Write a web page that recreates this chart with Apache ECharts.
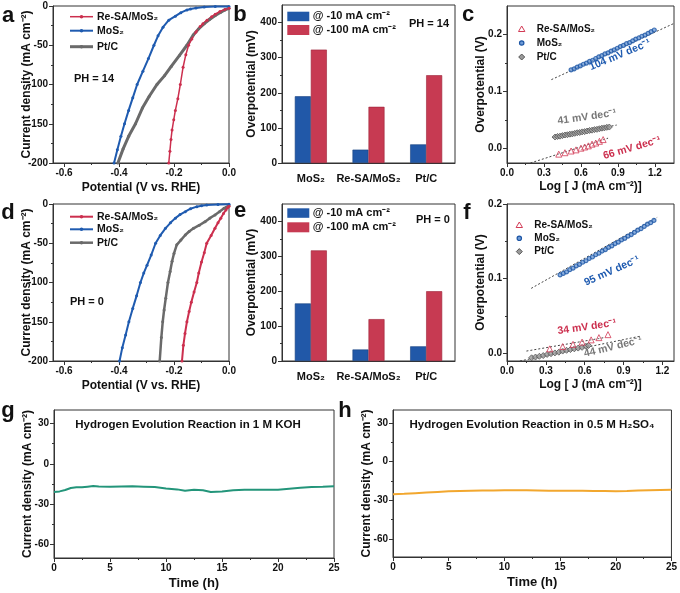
<!DOCTYPE html>
<html><head><meta charset="utf-8">
<script src="https://cdn.jsdelivr.net/npm/echarts@6/dist/echarts.min.js"></script>
<style>html,body{margin:0;padding:0;background:#fff}#c{width:680px;height:593px}</style>
</head><body><div id="c"></div>
<script>
const FONT = '"Liberation Sans", Arial, Helvetica, sans-serif';
// ---------- DATA ----------
// Panel a (pH 14) LSV: [potential V, current density mA cm-2]
const aRe  = [[0,-3],[-0.015,-4.5],[-0.033,-7],[-0.05,-10.5],[-0.063,-13.6],[-0.08,-18],[-0.095,-22.5],[-0.105,-26],[-0.12,-33],[-0.135,-42],[-0.147,-50],[-0.157,-62],[-0.167,-78],[-0.177,-100],[-0.186,-118],[-0.195,-133],[-0.201,-145],[-0.207,-158],[-0.211,-170],[-0.215,-185],[-0.219,-200]];
const aMoS = [[0,-0.5],[-0.05,-0.7],[-0.09,-1.2],[-0.12,-2.5],[-0.14,-3.8],[-0.153,-5],[-0.175,-8.5],[-0.195,-13],[-0.219,-18],[-0.24,-27],[-0.258,-38],[-0.273,-50],[-0.293,-67],[-0.313,-83],[-0.334,-100],[-0.35,-117],[-0.365,-133],[-0.38,-150],[-0.393,-166],[-0.406,-183],[-0.418,-200]];
const aPt  = [[0,-3],[-0.015,-5],[-0.03,-8],[-0.05,-12],[-0.07,-17],[-0.09,-22.5],[-0.11,-29],[-0.13,-37],[-0.153,-50],[-0.18,-63],[-0.21,-77],[-0.235,-89],[-0.262,-100],[-0.29,-115],[-0.315,-130],[-0.34,-150],[-0.365,-166],[-0.385,-182],[-0.404,-200]];
// Panel d (pH 0) LSV
const dRe  = [[0,-3],[-0.005,-4.5],[-0.011,-7.6],[-0.02,-12],[-0.03,-18],[-0.04,-24],[-0.051,-31],[-0.065,-40],[-0.081,-50],[-0.09,-62],[-0.1,-74],[-0.11,-88],[-0.117,-100],[-0.127,-112],[-0.137,-125],[-0.145,-137],[-0.153,-150],[-0.16,-165],[-0.166,-180],[-0.171,-200]];
const dMoS = [[0,-0.3],[-0.04,-0.5],[-0.081,-1.3],[-0.1,-2.2],[-0.117,-3.4],[-0.14,-6],[-0.159,-9.8],[-0.178,-13.5],[-0.195,-18],[-0.213,-24],[-0.231,-31],[-0.25,-40],[-0.267,-50],[-0.283,-65],[-0.298,-78],[-0.31,-88],[-0.322,-100],[-0.336,-117],[-0.35,-133],[-0.364,-150],[-0.376,-167],[-0.388,-183],[-0.398,-200]];
const dPt  = [[0,-2],[-0.01,-4],[-0.018,-5.5],[-0.035,-10],[-0.051,-14],[-0.07,-18],[-0.087,-22.5],[-0.108,-27],[-0.129,-31],[-0.145,-35],[-0.159,-39.5],[-0.175,-46],[-0.19,-52],[-0.2,-63],[-0.207,-73],[-0.214,-86],[-0.222,-100],[-0.23,-120],[-0.236,-135],[-0.241,-150],[-0.246,-170],[-0.252,-200]];
// Panels b, e: overpotentials (mV)
const barCats = ['MoS\u2082','Re-SA/MoS\u2082','Pt/C'];
const b10  = [190, 38, 53];
const b100 = [323, 160, 250];
const e10  = [165, 33, 42];
const e100 = [317, 120, 200];
// Panel c Tafel (pH 14)
const cMoSx = [0.52,0.545,0.57,0.595,0.62,0.645,0.67,0.695,0.72,0.745,0.77,0.795,0.82,0.845,0.87,0.895,0.92,0.945,0.97,0.995,1.02,1.045,1.07,1.095,1.12,1.145,1.17,1.195];
const cMoSy = [0.138,0.140,0.143,0.145,0.148,0.150,0.153,0.155,0.158,0.161,0.163,0.166,0.168,0.171,0.173,0.176,0.179,0.181,0.184,0.186,0.189,0.192,0.194,0.197,0.199,0.202,0.205,0.208];
const cPtx  = [0.39,0.41,0.43,0.45,0.47,0.49,0.51,0.53,0.55,0.57,0.59,0.61,0.63,0.65,0.67,0.69,0.71,0.73,0.75,0.77,0.79,0.81,0.83];
const cPty  = [0.0205,0.0215,0.022,0.023,0.024,0.0245,0.0255,0.026,0.027,0.028,0.0285,0.0295,0.030,0.031,0.032,0.0325,0.0335,0.034,0.035,0.036,0.0365,0.0375,0.038];
const cRex  = [0.42,0.47,0.52,0.56,0.60,0.63,0.66,0.69,0.72,0.75,0.78];
const cRey  = [-0.0095,-0.007,-0.004,-0.002,0.001,0.003,0.005,0.008,0.010,0.013,0.016];
const cFitMoS = [[0.36,0.121],[1.35,0.219]];
const cFitPt  = [[0.37,0.0195],[0.89,0.0415]];
const cFitRe  = [[0.19,-0.025],[0.82,0.0185]];
// Panel f Tafel (pH 0)
const fMoSx = [0.41,0.435,0.46,0.485,0.51,0.535,0.56,0.585,0.61,0.635,0.66,0.685,0.71,0.735,0.76,0.785,0.81,0.835,0.86,0.885,0.91,0.935,0.96,0.985,1.01,1.035,1.06,1.085,1.11,1.135];
const fMoSy = [0.105,0.107,0.109,0.112,0.114,0.117,0.119,0.122,0.124,0.127,0.129,0.132,0.134,0.137,0.139,0.142,0.144,0.147,0.149,0.152,0.154,0.157,0.159,0.162,0.165,0.167,0.170,0.173,0.175,0.178];
const fPtx  = [0.19,0.22,0.25,0.28,0.31,0.34,0.37,0.40,0.43,0.46,0.49,0.52,0.55,0.58,0.61,0.63];
const fPty  = [-0.006,-0.005,-0.004,-0.003,-0.0015,-0.0005,0.0005,0.0015,0.003,0.004,0.005,0.006,0.007,0.008,0.0095,0.0105];
const fRex  = [0.33,0.43,0.51,0.58,0.65,0.71,0.78];
const fRey  = [0.006,0.009,0.012,0.015,0.018,0.021,0.025];
const fFitMoS = [[0.187,0.087],[1.16,0.182]];
const fFitPt  = [[0.10,-0.0103],[1.03,0.023]];
const fFitRe  = [[0.15,0.003],[0.75,0.021]];
// Panels g, h stability
const gT = [0,0.5,1,1.5,2,2.5,3,3.5,4,5,6,7,8,9,10,11,11.7,12.5,13.3,14,15,16,17,18,19,20,21,22,23,24,25];
const gJ = [-21,-20.5,-19.5,-18,-17.5,-17.5,-17,-16.5,-16.8,-17,-16.8,-16.7,-17,-17.3,-18.3,-19,-20,-19.3,-19.7,-21,-20.5,-19.7,-19.3,-19.2,-19.2,-19.2,-18.5,-17.8,-17.2,-17,-16.7];
const hT = [0,1,2,3,4,5,6,7,8,9,10,11,12,13,14,15,16,17,18,19,20,21,22,23,24,25];
const hJ = [-25.4,-25,-24.5,-24,-23.5,-23,-22.8,-22.6,-22.5,-22.4,-22.2,-22.3,-22.2,-22.4,-22.7,-22.6,-22.6,-22.7,-22.8,-22.9,-23,-22.8,-22.5,-22.2,-22,-21.8];
// Tick labels
const lsvXTicks = [-0.6,-0.4,-0.2,0];
const lsvYTicks = [-200,-150,-100,-50,0];
const barYTicks = [0,100,200,300,400];
const tafXTicks = [0,0.3,0.6,0.9,1.2];
const tafYTicks = [0,0.1,0.2];
const stXTicks = [0,5,10,15,20,25];
const stYTicks = [-60,-30,0,30];

// ---------- STYLE ----------
const AX = '#333';
const RED = '#cc2f4e', BLUE = '#1f5bb0', GRAY = '#6a6a6a';
const BARB = '#2158a8', BARR = '#c73a52';
const zip = (xs, ys) => xs.map((x, i) => [x, ys[i]]);

const grids = [
  {left:53, top:6, width:176, height:157},   // a
  {left:282, top:5, width:173, height:158},  // b
  {left:507, top:6, width:167, height:157},  // c
  {left:53, top:204, width:176, height:157}, // d
  {left:282, top:204, width:173, height:157},// e
  {left:507, top:204, width:167, height:157},// f
  {left:54, top:410, width:280, height:148}, // g
  {left:393, top:410, width:281, height:147} // h
].map(g => Object.assign(g, {show:true, borderColor:AX, borderWidth:1, backgroundColor:'transparent'}));

const xAxes = [], yAxes = [];
const labelStyle = {fontFamily:FONT, fontWeight:'bold', fontSize:10, color:'#111'};
function valAxis(arr, dir, gi, min, max, ticks, minor, name, gap, fmt, nameSize) {
  arr.push({
    type:'value', gridIndex:gi, min, max, position: dir==='x'?'bottom':'left',
    name, nameLocation:'middle', nameGap:gap, nameMoveOverlap:false,
    nameTextStyle:{fontFamily:FONT, fontWeight:'bold', fontSize:nameSize||12, color:'#111'},
    axisLine:{show:true, onZero:false, lineStyle:{color:AX, width:1}},
    axisTick:{show:true, length:4, customValues:ticks, lineStyle:{color:AX}},
    axisLabel:Object.assign({show:true, customValues:ticks, margin:5, formatter:fmt}, labelStyle),
    splitLine:{show:false}
  });
  const main = arr.length - 1;
  arr.push({
    type:'value', gridIndex:gi, min, max, position: dir==='x'?'bottom':'left',
    axisLine:{show:false, onZero:false},
    axisTick:{show:true, length:2, customValues:minor, lineStyle:{color:AX}},
    axisLabel:{show:false}, splitLine:{show:false}
  });
  return main;
}
const f1 = v => v.toFixed(1);
const f0 = v => String(Math.round(v));

const ax = {};
// a
ax.ax = valAxis(xAxes,'x',0,-0.64,0,lsvXTicks,[-0.5,-0.3,-0.1],'Potential (V vs. RHE)',19,f1);
ax.ay = valAxis(yAxes,'y',0,-200,0,lsvYTicks,[-175,-125,-75,-25],'Current density (mA cm\u207B\u00B2)',20,f0);
// d
ax.dx = valAxis(xAxes,'x',3,-0.64,0,lsvXTicks,[-0.5,-0.3,-0.1],'Potential (V vs. RHE)',19,f1);
ax.dy = valAxis(yAxes,'y',3,-200,0,lsvYTicks,[-175,-125,-75,-25],'Current density (mA cm\u207B\u00B2)',20,f0);
// c
ax.cx = valAxis(xAxes,'x',2,0,1.355,tafXTicks,[0.15,0.45,0.75,1.05],'Log [ J (mA cm\u207B\u00B2)]',18,f1);
ax.cy = valAxis(yAxes,'y',2,-0.025,0.25,tafYTicks,[0.05,0.15],'Overpotential (V)',20,f1);
// f
ax.fx = valAxis(xAxes,'x',5,0,1.29,tafXTicks,[0.15,0.45,0.75,1.05],'Log [ J (mA cm\u207B\u00B2)]',18,f1);
ax.fy = valAxis(yAxes,'y',5,-0.0103,0.2,tafYTicks,[0.05,0.15],'Overpotential (V)',20,f1);
// g
ax.gx = valAxis(xAxes,'x',6,0,25,stXTicks,[2.5,7.5,12.5,17.5,22.5],'Time (h)',19,f0,13);
ax.gy = valAxis(yAxes,'y',6,-70,40,stYTicks,[-45,-15,15],'Current density (mA cm\u207B\u00B2)',20,f0);
// h
ax.hx = valAxis(xAxes,'x',7,0,25,stXTicks,[2.5,7.5,12.5,17.5,22.5],'Time (h)',19,f0,13);
ax.hy = valAxis(yAxes,'y',7,-74,40,stYTicks,[-45,-15,15],'Current density (mA cm\u207B\u00B2)',20,f0);
// b, e bar axes
function catAxis(gi){
  xAxes.push({type:'category', gridIndex:gi, data:barCats, position:'bottom',
    axisLine:{show:true, lineStyle:{color:AX}}, axisTick:{show:false},
    axisLabel:Object.assign({margin:10, interval:0, hideOverlap:false}, labelStyle, {fontSize:11})});
  return xAxes.length-1;
}
ax.bx = catAxis(1);
ax.by = valAxis(yAxes,'y',1,0,450,barYTicks,[50,150,250,350],'Overpotential (mV)',24,f0);
ax.ex = catAxis(4);
ax.ey = valAxis(yAxes,'y',4,0,450,barYTicks,[50,150,250,350],'Overpotential (mV)',24,f0);

const series = [];
function lsv(xi, yi, data, color, w, sym){
  series.push({type:'line', xAxisIndex:xi, yAxisIndex:yi, data, color,
    symbol:'circle', symbolSize:sym, showSymbol:true,
    lineStyle:{width:w, color}, itemStyle:{color}, z:3});
}
lsv(ax.ax, ax.ay, aPt, GRAY, 3, 3);
lsv(ax.ax, ax.ay, aMoS, BLUE, 2, 3);
lsv(ax.ax, ax.ay, aRe, RED, 1.5, 3);
lsv(ax.dx, ax.dy, dPt, GRAY, 2.5, 3);
lsv(ax.dx, ax.dy, dMoS, BLUE, 2, 3);
lsv(ax.dx, ax.dy, dRe, RED, 2, 3);

function bars(xi, yi, v10, v100){
  series.push({type:'bar', xAxisIndex:xi, yAxisIndex:yi, data:v10, barWidth:16, barGap:'0%',
    itemStyle:{color:BARB, borderColor:'#17427f', borderWidth:0.6}});
  series.push({type:'bar', xAxisIndex:xi, yAxisIndex:yi, data:v100, barWidth:16, barGap:'0%',
    itemStyle:{color:BARR, borderColor:'#9c2237', borderWidth:0.6}});
}
bars(ax.bx, ax.by, b10, b100);
bars(ax.ex, ax.ey, e10, e100);

function fit(xi, yi, data){
  series.push({type:'line', xAxisIndex:xi, yAxisIndex:yi, data, symbol:'none',
    lineStyle:{type:[2,2], color:'#444', width:1}, z:2});
}
const symRe = {symbol:'triangle', symbolSize:6, itemStyle:{color:'rgba(255,255,255,0.3)', borderColor:'#d23a55', borderWidth:1}};
const symMoS = {symbol:'circle', symbolSize:4, itemStyle:{color:'#6f9bd6', borderColor:'#1d56a5', borderWidth:1.2}};
const symPt = {symbol:'diamond', symbolSize:6, itemStyle:{color:'#9a9a9a', borderColor:'#555', borderWidth:1}};
function scat(xi, yi, data, s){
  series.push(Object.assign({type:'scatter', xAxisIndex:xi, yAxisIndex:yi, data, z:3}, s));
}
fit(ax.cx, ax.cy, cFitMoS); fit(ax.cx, ax.cy, cFitPt); fit(ax.cx, ax.cy, cFitRe);
scat(ax.cx, ax.cy, zip(cMoSx,cMoSy), symMoS);
scat(ax.cx, ax.cy, zip(cPtx,cPty), symPt);
scat(ax.cx, ax.cy, zip(cRex,cRey), symRe);
fit(ax.fx, ax.fy, fFitMoS); fit(ax.fx, ax.fy, fFitPt); fit(ax.fx, ax.fy, fFitRe);
scat(ax.fx, ax.fy, zip(fMoSx,fMoSy), symMoS);
scat(ax.fx, ax.fy, zip(fPtx,fPty), symPt);
scat(ax.fx, ax.fy, zip(fRex,fRey), symRe);

series.push({type:'line', xAxisIndex:ax.gx, yAxisIndex:ax.gy, data:zip(gT,gJ), symbol:'none', lineStyle:{width:2, color:'#23957a'}});
series.push({type:'line', xAxisIndex:ax.hx, yAxisIndex:ax.hy, data:zip(hT,hJ), symbol:'none', lineStyle:{width:2, color:'#f2a72e'}});

// ---------- GRAPHIC TEXT / LEGENDS ----------
const G = [];
function T(x, y, text, size, fill, align, rot){
  G.push({type:'text', x, y, rotation:rot||0, z:100,
    style:{text, fontSize:size, fontFamily:FONT, fontWeight:'bold', fill:fill||'#111', align:align||'left', verticalAlign:'middle'}});
}
[['a',8,16],['b',240,15],['c',468,15],['d',8,213],['e',240,211],['f',467,213],['g',8,411],['h',345,411]]
  .forEach(([t,x,y]) => T(x, y, t, 22, '#111', 'center'));
function lineLeg(x, y, color, w, label){
  G.push({type:'line', z:100, shape:{x1:x, y1:y, x2:x+23, y2:y}, style:{stroke:color, lineWidth:w}});
  G.push({type:'circle', z:101, shape:{cx:x+11.5, cy:y, r:1.8}, style:{fill:color}});
  T(x+27, y, label, 10.5, '#111');
}
lineLeg(70, 16.7, RED, 1.5, 'Re-SA/MoS\u2082');
lineLeg(70, 30.7, BLUE, 2, 'MoS\u2082');
lineLeg(70, 46.7, GRAY, 3, 'Pt/C');
T(94, 79, 'PH = 14', 11, '#111', 'center');
lineLeg(70, 216.7, RED, 2, 'Re-SA/MoS\u2082');
lineLeg(70, 229.3, BLUE, 2, 'MoS\u2082');
lineLeg(70, 242.7, GRAY, 2.5, 'Pt/C');
T(87, 301.7, 'PH = 0', 11, '#111', 'center');
function barLeg(x, y, h, color, label){
  G.push({type:'rect', z:100, shape:{x, y, width:22, height:h}, style:{fill:color}});
  T(x+25.5, y+h/2, label, 11, '#111');
}
barLeg(287.3, 11.7, 9.5, BARB, '@ -10 mA cm\u207B\u00B2');
barLeg(287.3, 25, 10, BARR, '@ -100 mA cm\u207B\u00B2');
T(429, 24, 'PH = 14', 11, '#111', 'center');
barLeg(287.3, 208.3, 9.5, BARB, '@ -10 mA cm\u207B\u00B2');
barLeg(287.3, 222.3, 10, BARR, '@ -100 mA cm\u207B\u00B2');
T(433, 220, 'PH = 0', 11, '#111', 'center');
function tafLeg(x, y0, dy){
  G.push({type:'polygon', z:100, shape:{points:[[x,y0-3],[x-3.2,y0+2.5],[x+3.2,y0+2.5]]}, style:{fill:'rgba(255,255,255,0.3)', stroke:'#d23a55', lineWidth:1}});
  G.push({type:'circle', z:100, shape:{cx:x, cy:y0+dy, r:2.2}, style:{fill:'#6f9bd6', stroke:'#1d56a5', lineWidth:1.2}});
  G.push({type:'polygon', z:100, shape:{points:[[x,y0+2*dy-3],[x+3,y0+2*dy],[x,y0+2*dy+3],[x-3,y0+2*dy]]}, style:{fill:'#9a9a9a', stroke:'#555', lineWidth:1}});
  T(x+15, y0, 'Re-SA/MoS\u2082', 10, '#111');
  T(x+15, y0+dy, 'MoS\u2082', 10, '#111');
  T(x+15, y0+2*dy, 'Pt/C', 10, '#111');
}
tafLeg(521.7, 29, 14);
tafLeg(519.3, 225, 13.3);
T(620, 55, '104 mV dec\u207B\u00B9', 10.5, '#1f5bb0', 'center', 0.40);
T(587, 117, '41 mV dec\u207B\u00B9', 10.5, '#777', 'center', 0.14);
T(632, 148, '66 mV dec\u207B\u00B9', 10.5, '#cc2f4e', 'center', 0.28);
T(612, 271, '95 mV dec\u207B\u00B9', 10.5, '#1f5bb0', 'center', 0.42);
T(587, 327, '34 mV dec\u207B\u00B9', 10.5, '#cc2f4e', 'center', 0.14);
T(613, 347, '44 mV dec\u207B\u00B9', 10.5, '#777', 'center', 0.24);
T(188, 425, 'Hydrogen Evolution Reaction in 1 M KOH', 11.5, '#111', 'center');
T(532, 425, 'Hydrogen Evolution Reaction in 0.5 M H\u2082SO\u2084', 11.5, '#111', 'center');

const chart = echarts.init(document.getElementById('c'));
chart.setOption({animation:false, grid:grids, xAxis:xAxes, yAxis:yAxes, series, graphic:G});
</script></body></html>
